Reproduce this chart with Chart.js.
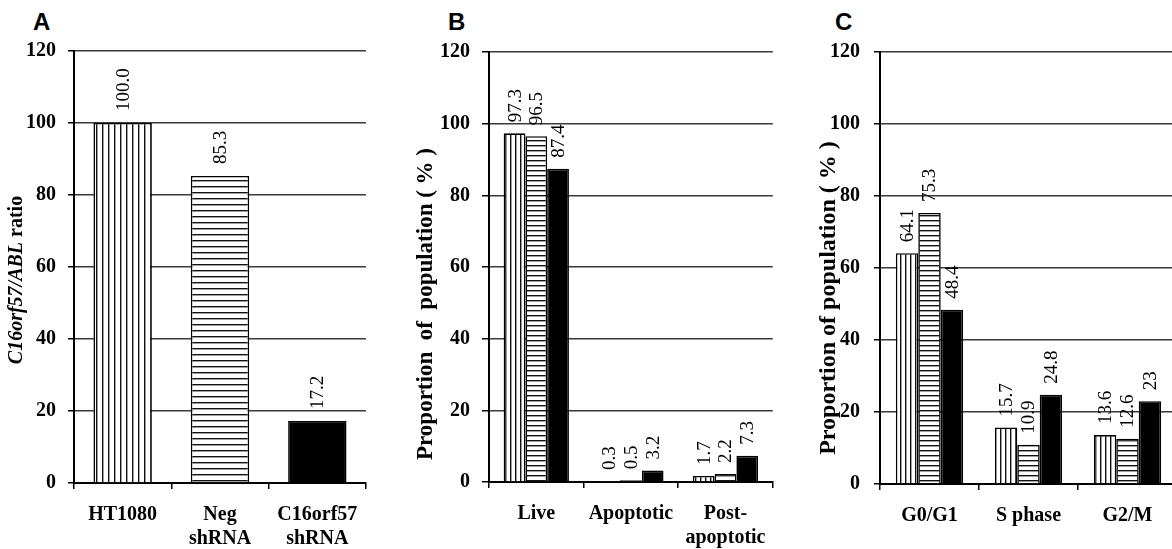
<!DOCTYPE html>
<html>
<head>
<meta charset="utf-8">
<script src="https://cdn.jsdelivr.net/npm/chart.js@4.4.1/dist/chart.umd.min.js"></script>
<style>
  html, body { margin: 0; padding: 0; background: #fff; width: 1172px; height: 549px; overflow: hidden; }
  .panel { position: absolute; top: 0; }
  .letter { position: absolute; font: bold 24px "Liberation Sans", Arial, sans-serif; color: #000; top: 8px; }
</style>
</head>
<body>
<div class="letter" style="left:33px">A</div>
<div class="letter" style="left:448px">B</div>
<div class="letter" style="left:835px">C</div>
<div class="panel" style="left:0px"><canvas id="cA" width="380" height="549"></canvas></div>
<div class="panel" style="left:380px"><canvas id="cB" width="400" height="549"></canvas></div>
<div class="panel" style="left:780px"><canvas id="cC" width="397" height="549"></canvas></div>
<script>
// ---------- DATA ----------
const yTicks = [0, 20, 40, 60, 80, 100, 120];

const catsA = ["HT1080", ["Neg", "shRNA"], ["C16orf57", "shRNA"]];
const valsA = [100.0, 85.3, 17.2];

const seriesNames = ["HT1080", "Neg shRNA", "C16orf57 shRNA"];

const catsB = ["Live", "Apoptotic", ["Post-", "apoptotic"]];
const bHT1080 = [97.3, 0.3, 1.7];
const bNeg = [96.5, 0.5, 2.2];
const bC16 = [87.4, 3.2, 7.3];

const catsC = ["G0/G1", "S phase", "G2/M"];
const cHT1080 = [64.1, 15.7, 13.6];
const cNeg = [75.3, 10.9, 12.6];
const cC16 = [48.4, 24.8, 23];

// ---------- STYLE HELPERS ----------
const SERIF = '"Liberation Serif", "Times New Roman", serif';

function stripes(dir, period) {
  const c = document.createElement('canvas');
  c.width = period; c.height = period;
  const g = c.getContext('2d');
  g.fillStyle = '#fff'; g.fillRect(0, 0, period, period);
  g.fillStyle = '#111';
  if (dir === 'v') g.fillRect(0, 0, 1.4, period);
  else g.fillRect(0, 0, period, 1.4);
  return g.createPattern(c, 'repeat');
}

const valueLabels = {
  id: 'valueLabels',
  afterDatasetsDraw(chart, args, opts) {
    const ctx = chart.ctx;
    ctx.save();
    ctx.font = opts.font;
    ctx.fillStyle = '#000';
    ctx.textAlign = 'left';
    ctx.textBaseline = 'middle';
    chart.data.datasets.forEach((ds, di) => {
      const meta = chart.getDatasetMeta(di);
      meta.data.forEach((el, i) => {
        const v = ds.data[i];
        const txt = opts.fixed ? v.toFixed(1) : String(v);
        ctx.save();
        ctx.translate(el.x + 1, el.y - opts.gap);
        ctx.rotate(-Math.PI / 2);
        ctx.fillText(txt, 0, 0);
        ctx.restore();
      });
    });
    ctx.restore();
  }
};

const yTitle = {
  id: 'yTitle',
  afterDraw(chart, args, opts) {
    const ctx = chart.ctx;
    ctx.save();
    ctx.fillStyle = '#000';
    ctx.textBaseline = 'middle';
    ctx.textAlign = 'left';
    let total = 0;
    opts.parts.forEach(p => { ctx.font = p.font; total += ctx.measureText(p.text).width; });
    ctx.translate(opts.x, opts.y);
    ctx.rotate(-Math.PI / 2);
    let pos = -total / 2;
    opts.parts.forEach(p => {
      ctx.font = p.font;
      ctx.fillText(p.text, pos, 0);
      pos += ctx.measureText(p.text).width;
    });
    ctx.restore();
  }
};

function makeChart(id, cats, datasets, geo, labelOpts, titleOpts) {
  new Chart(document.getElementById(id), {
    type: 'bar',
    data: { labels: cats, datasets: datasets },
    options: {
      responsive: false,
      animation: false,
      devicePixelRatio: 1,
      layout: { padding: { top: geo.top, right: geo.right, bottom: 0, left: 0 } },
      plugins: {
        legend: { display: false },
        tooltip: { enabled: false },
        valueLabels: labelOpts,
        yTitle: titleOpts
      },
      scales: {
        x: {
          offset: true,
          grid: { offset: true, drawOnChartArea: false, drawTicks: true, tickLength: 6, color: '#000', lineWidth: 1.5 },
          border: { display: true, color: '#000', width: 2 },
          ticks: { color: '#000', font: { family: SERIF, size: 20, weight: 'bold', lineHeight: 1.2 }, padding: geo.xpad, maxRotation: 0, autoSkip: false },
          afterFit(s) { s.height = geo.xh; }
        },
        y: {
          min: 0, max: 120,
          afterBuildTicks(s) { s.ticks = yTicks.map(v => ({ value: v })); },
          grid: { color: '#3a3a3a', lineWidth: 1.5, tickLength: geo.tick, drawTicks: true, tickColor: '#000' },
          border: { display: true, color: '#000', width: 2 },
          ticks: { color: '#000', font: { family: SERIF, size: 20, weight: 'bold' }, padding: geo.ypad },
          afterFit(s) { s.width = geo.yw; }
        }
      }
    },
    plugins: [valueLabels, yTitle]
  });
}

function groupSets(a, b, c, period, catPct) {
  return [
    { label: seriesNames[0], data: a, backgroundColor: stripes('v', period), borderColor: '#000', borderWidth: 1.6, categoryPercentage: catPct, barPercentage: 1 },
    { label: seriesNames[1], data: b, backgroundColor: stripes('h', period), borderColor: '#000', borderWidth: 1.6, categoryPercentage: catPct, barPercentage: 1 },
    { label: seriesNames[2], data: c, backgroundColor: '#000', borderColor: '#000', borderWidth: 1.6, categoryPercentage: catPct, barPercentage: 1 }
  ];
}

// Panel A
makeChart('cA', catsA, [{
  label: 'C16orf57/ABL ratio',
  data: valsA,
  backgroundColor: [stripes('v', 6), stripes('h', 6), '#000'],
  borderColor: '#000', borderWidth: 1.6,
  categoryPercentage: 1, barPercentage: 0.6
}], { top: 51, right: 14, xh: 66, yw: 74, tick: 6, ypad: 12, xpad: 14 },
{ font: '19px ' + SERIF, gap: 12, fixed: true },
{ x: 17, y: 280, parts: [
  { text: 'C16orf57/ABL', font: 'italic bold 20px ' + SERIF },
  { text: ' ratio', font: 'bold 20px ' + SERIF }
] });

// Panel B
makeChart('cB', catsB, groupSets(bHT1080, bNeg, bC16, 5, 0.69),
{ top: 52, right: 3, xh: 67, yw: 109, tick: 7, ypad: 12, xpad: 14 },
{ font: '19px ' + SERIF, gap: 11, fixed: true },
{ x: 46, y: 304, parts: [{ text: 'Proportion  of  population ( % )', font: 'bold 23px ' + SERIF }] });

// Panel C
makeChart('cC', catsC, groupSets(cHT1080, cNeg, cC16, 5, 0.68),
{ top: 52, right: 0, xh: 65, yw: 100, tick: 6, ypad: 14, xpad: 14 },
{ font: '19px ' + SERIF, gap: 11, fixed: false },
{ x: 49, y: 298, parts: [{ text: 'Proportion of population ( % )', font: 'bold 24px ' + SERIF }] });
</script>
</body>
</html>
